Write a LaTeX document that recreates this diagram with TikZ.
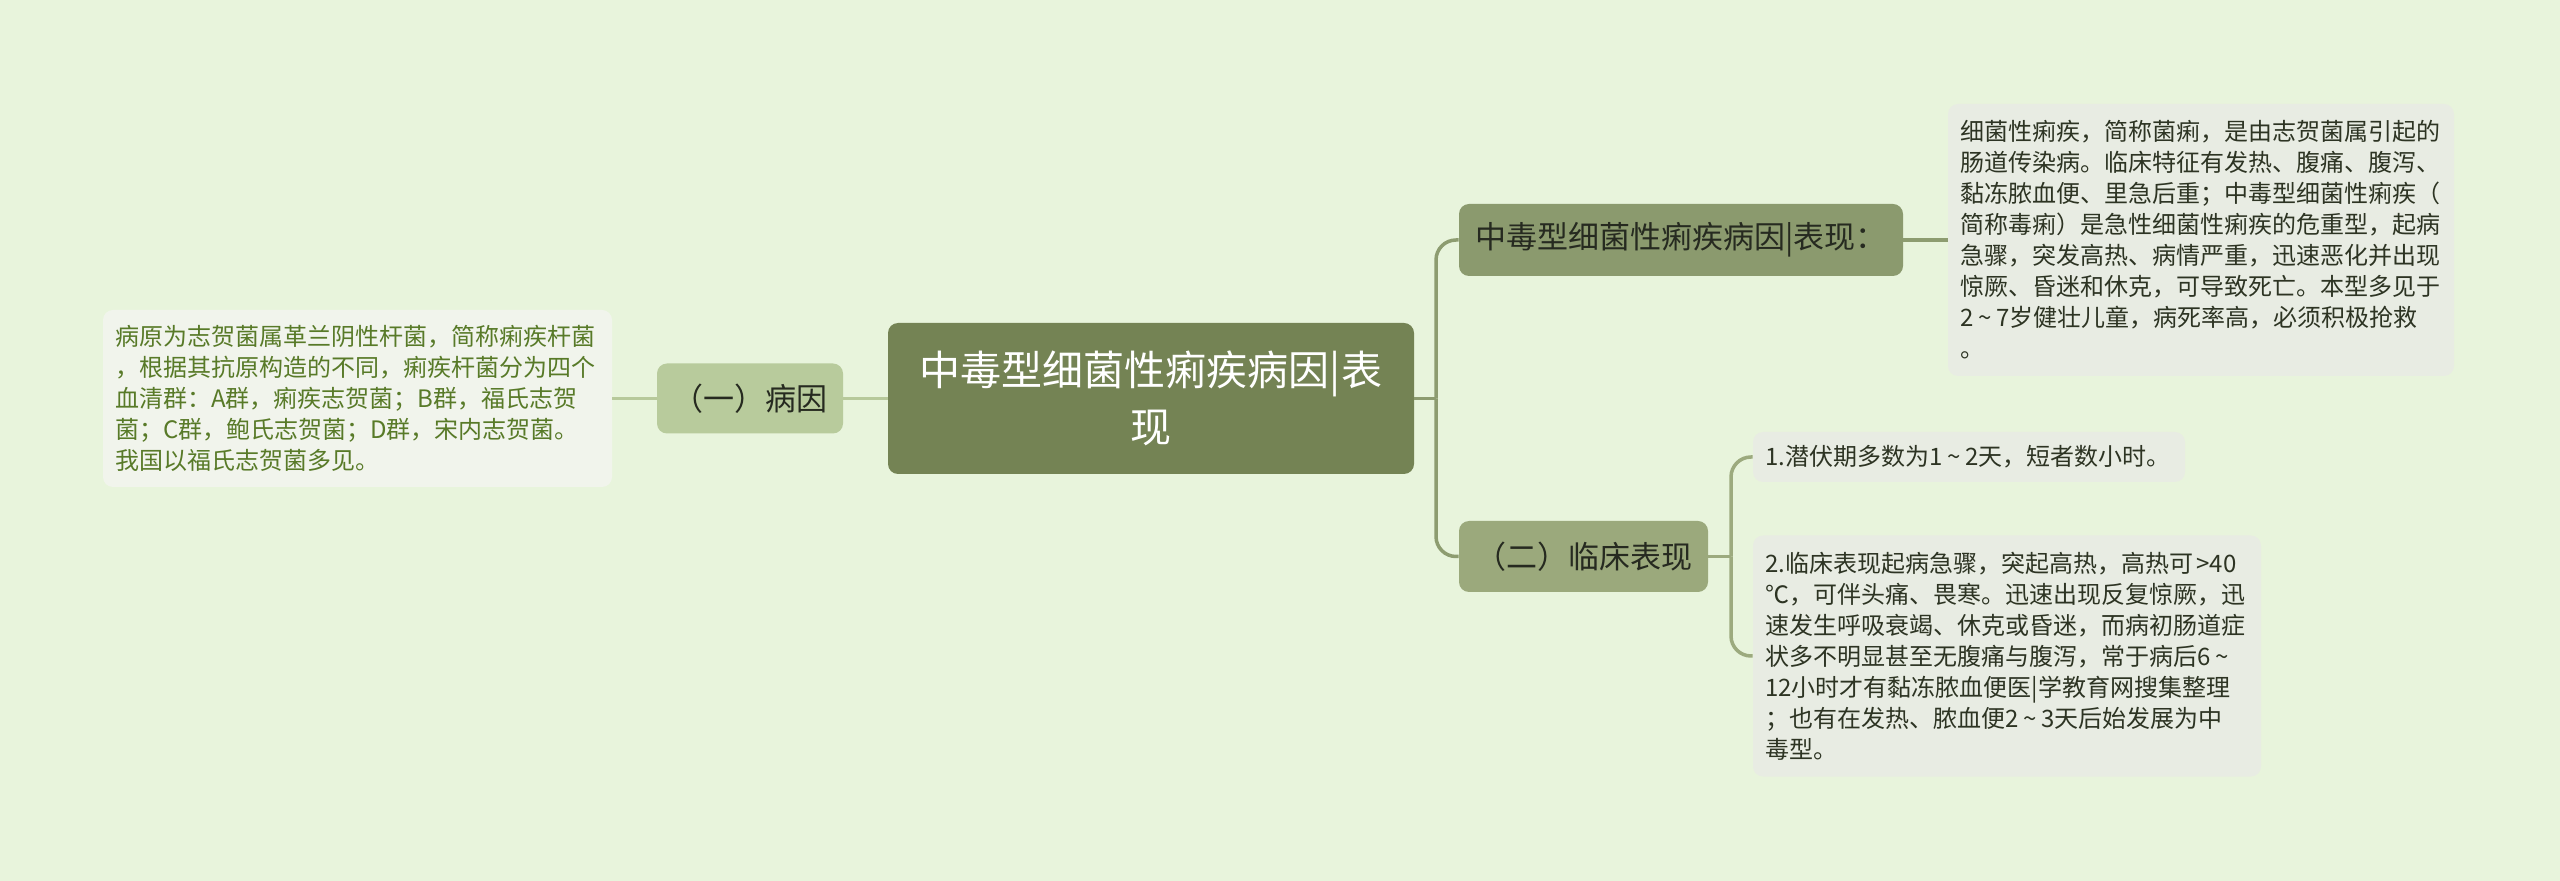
\documentclass[tikz,border=0pt]{standalone}
\usepackage{fontspec}
\setmainfont{Noto Sans CJK SC}
\usetikzlibrary{calc}
\definecolor{bg}{RGB}{232,244,220}
\definecolor{rootfill}{RGB}{116,131,84}
\definecolor{t1fill}{RGB}{139,154,110}
\definecolor{t2fill}{RGB}{155,169,124}
\definecolor{l1fill}{RGB}{184,203,156}
\definecolor{lbfill}{RGB}{241,244,236}
\definecolor{rbfill}{RGB}{232,236,227}
\definecolor{ltext}{RGB}{88,122,40}
\definecolor{dtext}{RGB}{45,52,35}
\definecolor{ttext}{RGB}{38,42,32}
\definecolor{lconn}{RGB}{183,201,155}
\definecolor{rconn}{RGB}{141,156,112}
\definecolor{rtwoconn}{RGB}{156,170,126}
\newcommand\mytld{\hspace{0.2em}\textasciitilde\hspace{0.2em}}
\tikzset{
  rootbox/.style={rectangle, rounded corners=5pt, fill=rootfill, text=white, inner sep=0pt, align=center,
    font=\fontsize{20.5pt}{28.5pt}\selectfont},
  topic/.style={rectangle, rounded corners=5pt, inner sep=0pt, text=ttext,
    font=\fontsize{15.5pt}{18pt}\selectfont},
  textbox/.style={rectangle, rounded corners=5pt, inner xsep=6pt, inner ysep=0pt, align=left,
    font=\fontsize{12pt}{15.5pt}\selectfont},
  conn/.style={line width=1.75pt},
}
\begin{document}
\begin{tikzpicture}[x=0.5pt,y=-0.5pt]
\fill[bg] (0,0) rectangle (2560,881);
\useasboundingbox (0,0) rectangle (2560,881);

\node[rootbox, minimum width=263pt, minimum height=75.5pt] (root) at (1151,398.5) {中毒型细菌性痢疾病因|表\\现};

\node[topic, fill=l1fill, minimum width=93pt, minimum height=35pt] (l1) at (750,398.5) {（一）病因};

\node[textbox, fill=lbfill, text=ltext, minimum width=254.5pt, minimum height=88.5pt, text width=242.5pt] (lb) at (357.5,398.5)
{病原为志贺菌属革兰阴性杆菌，简称痢疾杆菌\\，根据其抗原构造的不同，痢疾杆菌分为四个\\血清群：A群，痢疾志贺菌；B群，福氏志贺\\菌；C群，鲍氏志贺菌；D群，宋内志贺菌。\\我国以福氏志贺菌多见。};

\node[topic, fill=t1fill, minimum width=222pt, minimum height=36pt] (t1) at (1681,240) {中毒型细菌性痢疾病因|表现：};

\node[textbox, fill=rbfill, text=dtext, minimum width=253pt, minimum height=136pt, text width=241pt] (r1) at (2201,240)
{细菌性痢疾，简称菌痢，是由志贺菌属引起的\\肠道传染病。临床特征有发热、腹痛、腹泻、\\黏冻脓血便、里急后重；中毒型细菌性痢疾（\\简称毒痢）是急性细菌性痢疾的危重型，起病\\急骤，突发高热、病情严重，迅速恶化并出现\\惊厥、昏迷和休克，可导致死亡。本型多见于\\2\mytld 7岁健壮儿童，病死率高，必须积极抢救\\。};

\node[topic, fill=t2fill, minimum width=124.5pt, minimum height=35.5pt] (t2) at (1583.5,556.5) {（二）临床表现};

\node[textbox, fill=rbfill, text=dtext, minimum width=216pt, minimum height=25pt, text width=204pt] (b1) at (1969,457)
{1.潜伏期多数为1\mytld 2天，短者数小时。};

\node[textbox, fill=rbfill, text=dtext, minimum width=254pt, minimum height=120.5pt, text width=242pt] (b2) at (2007,656)
{2.临床表现起病急骤，突起高热，高热可\hspace{0.15em}>40\\℃，可伴头痛、畏寒。迅速出现反复惊厥，迅\\速发生呼吸衰竭、休克或昏迷，而病初肠道症\\状多不明显甚至无腹痛与腹泻，常于病后6\mytld\\12小时才有黏冻脓血便医|学教育网搜集整理\\；也有在发热、脓血便2\mytld 3天后始发展为中\\毒型。};

\coordinate (j1) at (1436,398.5);
\coordinate (j2) at (1731,556.5);

\draw[conn, lconn] (lb.east) -- (l1.west);
\draw[conn, lconn] (l1.east) -- (root.west);
\draw[conn, rconn] (root.east) -- (j1);
\draw[conn, rconn, rounded corners=10pt] (j1) |- (t1.west);
\draw[conn, rconn, rounded corners=10pt] (j1) |- (t2.west);
\draw[conn, rconn] (t1.east) -- (r1.west);
\draw[conn, rtwoconn] (t2.east) -- (j2);
\draw[conn, rtwoconn, rounded corners=10pt] (j2) |- (b1.west);
\draw[conn, rtwoconn, rounded corners=10pt] (j2) |- (b2.west);
\end{tikzpicture}
\end{document}
